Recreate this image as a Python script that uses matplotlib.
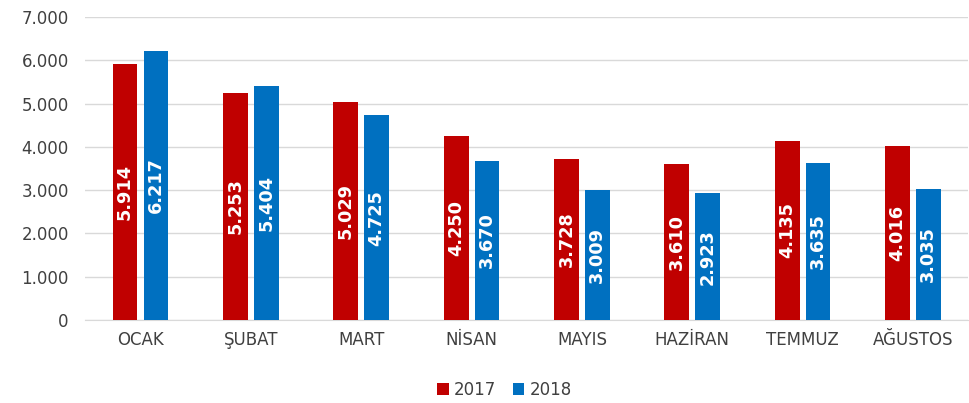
import numpy as np
import matplotlib.pyplot as plt
from matplotlib.ticker import FuncFormatter

# veri
months = ["OCAK", "ŞUBAT", "MART", "NİSAN", "MAYIS", "HAZİRAN", "TEMMUZ", "AĞUSTOS"]
y2017 = [5914, 5253, 5029, 4250, 3728, 3610, 4135, 4016]
y2018 = [6217, 5404, 4725, 3670, 3009, 2923, 3635, 3035]

RED = "#c00000"
BLUE = "#0070c0"

def tr_fmt(v):
    return f"{int(v):,}".replace(",", ".")

fig = plt.figure(figsize=(9.7, 4.03), dpi=100)
ax = fig.add_axes([0.088, 0.206, 0.91, 0.752])

x = np.arange(len(months))
w = 0.225
off = 0.14
b1 = ax.bar(x - off, y2017, w, color=RED, label="2017", zorder=3)
b2 = ax.bar(x + off, y2018, w, color=BLUE, label="2018", zorder=3)

for bars, vals in ((b1, y2017), (b2, y2018)):
    for rect, v in zip(bars, vals):
        ax.text(rect.get_x() + rect.get_width() / 2, v / 2, tr_fmt(v),
                rotation=90, ha="center", va="center", color="white",
                fontsize=12.8, fontweight="bold", zorder=4)

ax.set_ylim(0, 7000)
ax.set_xlim(-0.5, len(months) - 0.5)
ax.set_yticks(range(0, 7001, 1000))
ax.yaxis.set_major_formatter(FuncFormatter(lambda v, p: tr_fmt(v)))
ax.set_xticks(x)
ax.set_xticklabels(months)
ax.grid(axis="y", color="#d9d9d9", linewidth=1, zorder=0)
for s in ("top", "right", "left"):
    ax.spines[s].set_visible(False)
ax.spines["bottom"].set_color("#d9d9d9")
ax.tick_params(axis="both", length=0, labelsize=12, colors="#404040", pad=8)
ax.tick_params(axis="y", pad=12)

fig.legend(loc="center", bbox_to_anchor=(0.52, 0.032), ncol=2, frameon=False,
           fontsize=12, handlelength=0.7, handleheight=0.7, handletextpad=0.3,
           columnspacing=1.0, labelcolor="#404040")

fig.savefig("out.png", dpi=100)
